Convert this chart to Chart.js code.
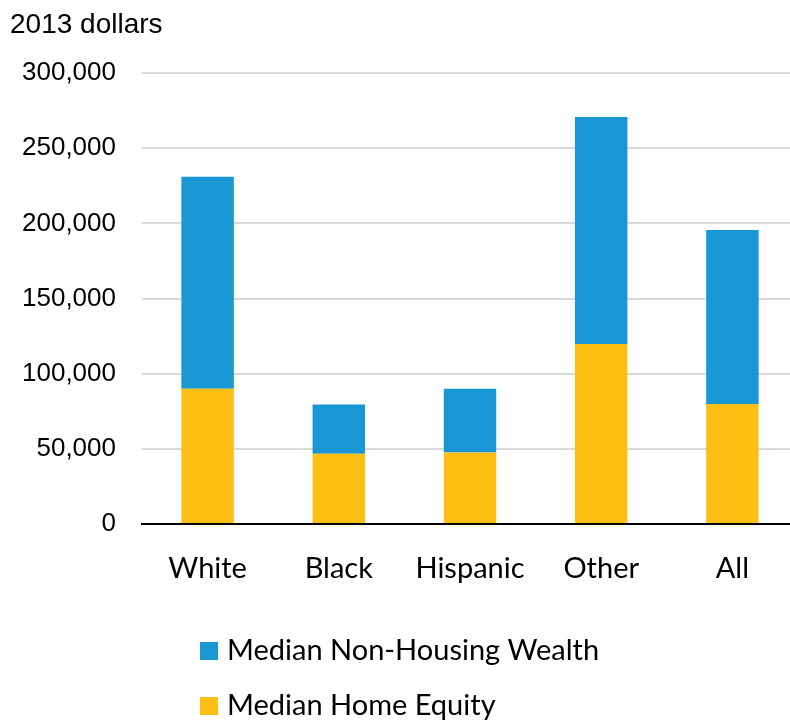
<!DOCTYPE html>
<html>
<head>
<meta charset="utf-8">
<title>Median wealth by race</title>
<script src="https://cdn.jsdelivr.net/npm/chart.js@4.4.1/dist/chart.umd.min.js"></script>
<style>
  html, body { margin: 0; padding: 0; background: #fff; overflow: hidden; }
  #wrap { width: 798px; height: 721px; }
</style>
</head>
<body>
<div id="wrap"><canvas id="wealthChart"></canvas></div>
<script>
// Median household wealth, 2013 dollars
const categories = ['White', 'Black', 'Hispanic', 'Other', 'All'];
const homeEquity = [90000, 46700, 47600, 119800, 79800];
const nonHousingWealth = [141000, 32800, 42400, 151000, 115700];
const yTickValues = [0, 50000, 100000, 150000, 200000, 250000, 300000];

const BLUE = '#1996d4';
const YELLOW = '#fcbf13';

// Legend stacked vertically under the axis, top series first
const stackedLegend = {
  id: 'stackedLegend',
  afterDraw(chart) {
    const ctx = chart.ctx;
    const items = chart.data.datasets.slice().reverse();
    ctx.save();
    ctx.font = '29px Lato';
    ctx.textBaseline = 'middle';
    ctx.textAlign = 'left';
    items.forEach((ds, i) => {
      const y = 651 + i * 55;
      ctx.fillStyle = ds.backgroundColor;
      ctx.fillRect(200, y - 9, 18, 18);
      ctx.fillStyle = '#000';
      ctx.fillText(ds.label, 227, y);
    });
    ctx.restore();
  }
};

const ctx = document.getElementById('wealthChart').getContext('2d');
new Chart(ctx, {
  type: 'bar',
  data: {
    labels: categories,
    datasets: [
      {
        label: 'Median Home Equity',
        data: homeEquity,
        backgroundColor: YELLOW,
        categoryPercentage: 0.8,
        barPercentage: 0.5
      },
      {
        label: 'Median Non-Housing Wealth',
        data: nonHousingWealth,
        backgroundColor: BLUE,
        categoryPercentage: 0.8,
        barPercentage: 0.5
      }
    ]
  },
  options: {
    responsive: true,
    maintainAspectRatio: false,
    animation: false,
    layout: { padding: { left: 10, right: 0, top: 0, bottom: 117 } },
    scales: {
      x: {
        stacked: true,
        grid: { display: false },
        border: { color: '#000', width: 2 },
        ticks: {
          color: '#000',
          padding: 19,
          font: { family: 'Lato', size: 29 }
        },
        afterFit: scale => { scale.height = 80; }
      },
      y: {
        stacked: true,
        min: 0,
        max: 300000,
        grid: { color: '#d9d9d9', lineWidth: 2, drawTicks: false },
        border: { display: false },
        afterBuildTicks: scale => {
          scale.ticks = yTickValues.map(v => ({ value: v }));
        },
        ticks: {
          color: '#000',
          padding: 26,
          font: { family: 'Liberation Sans', size: 26 },
          callback: v => v.toLocaleString('en-US')
        },
        afterFit: scale => { scale.width = 132; }
      }
    },
    plugins: {
      legend: { display: false },
      tooltip: { enabled: false },
      title: {
        display: true,
        text: '2013 dollars',
        align: 'start',
        color: '#000',
        font: { family: 'Liberation Sans', size: 28, weight: 'normal' },
        padding: { top: 8, bottom: 31.4 }
      }
    }
  },
  plugins: [stackedLegend]
});
</script>
</body>
</html>
